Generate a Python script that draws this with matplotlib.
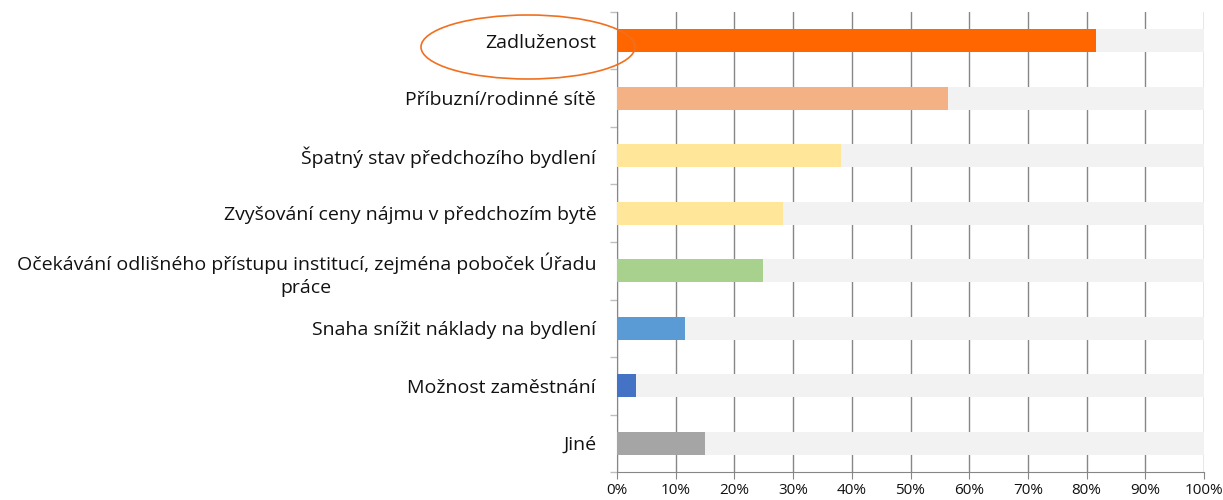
import matplotlib
matplotlib.use("Agg")
import matplotlib.pyplot as plt
from matplotlib.patches import Ellipse
from matplotlib.ticker import FixedLocator, PercentFormatter
import numpy as np

# data (top to bottom)
categories = [
    "Zadluženost",
    "Příbuzní/rodinné sítě",
    "Špatný stav předchozího bydlení",
    "Zvyšování ceny nájmu v předchozím bytě",
    "Očekávání odlišného přístupu institucí, zejména poboček Úřadu\npráce",
    "Snaha snížit náklady na bydlení",
    "Možnost zaměstnání",
    "Jiné",
]
values = [81.6, 56.4, 38.2, 28.3, 24.9, 11.6, 3.2, 15.0]
colors = ["#FF6600", "#F4B183", "#FFE699", "#FFE699", "#A9D18E",
          "#5B9BD5", "#4472C4", "#A5A5A5"]
total = 100

plt.rcParams["font.family"] = ["Open Sans", "DejaVu Sans"]

fig = plt.figure(figsize=(12.23, 5.0), dpi=100)
ax = fig.add_axes([617 / 1223, 1 - 472 / 500, (1204 - 617) / 1223, 460 / 500])
ax.set_axisbelow(True)

y = np.arange(len(categories))
ax.barh(y, [total] * len(y), height=0.4, color="#F2F2F2", zorder=2)
ax.barh(y, values, height=0.4, color=colors, zorder=3)

ax.set_xlim(0, 100)
ax.set_ylim(len(y) - 0.5, -0.5)
ax.set_xticks(np.arange(0, 101, 10))
ax.xaxis.set_major_formatter(PercentFormatter(decimals=0))
ax.set_yticks(y)
ax.set_yticklabels(categories, fontsize=14, color="#111111", multialignment="center",
                   linespacing=1.3)
ax.yaxis.set_minor_locator(FixedLocator(np.arange(-0.5, len(y), 1)))
ax.tick_params(axis="y", which="major", length=0, pad=15)
ax.tick_params(axis="y", which="minor", length=5, color="#BFBFBF", width=1)
ax.tick_params(axis="x", length=5, color="#868686", labelsize=11, labelcolor="#111111", pad=3)

ax.grid(axis="x", color="#878787", lw=1)
for s in ("top", "right"):
    ax.spines[s].set_visible(False)
for s in ("left", "bottom"):
    ax.spines[s].set_color("#868686")

# highlight ellipse around the top label
fig.patches.append(Ellipse((528 / 1223, 1 - 47 / 500), 214 / 1223, 64 / 500,
                           transform=fig.transFigure, fill=False,
                           edgecolor="#F07020", lw=1.2))

fig.savefig("out.png", dpi=100)
